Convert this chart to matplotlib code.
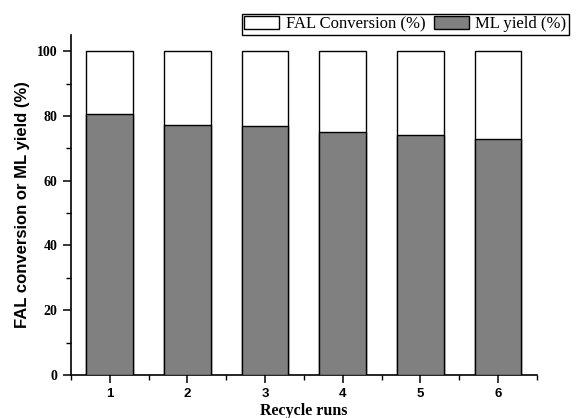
import numpy as np
import matplotlib.pyplot as plt
from matplotlib.ticker import MultipleLocator

# data
runs = [1, 2, 3, 4, 5, 6]
fal_conversion = [100, 100, 100, 100, 100, 100]
ml_yield = [80.6, 77.1, 76.9, 75.2, 74.1, 73.0]

serif = ['Liberation Serif', 'DejaVu Serif']
sans = ['Liberation Sans', 'DejaVu Sans']

fig = plt.figure(figsize=(5.76, 4.18), dpi=100)
ax = fig.add_axes([0.123, 0.103, 0.809, 0.813])

# white full bar for conversion, gray bar for yield in front
ax.bar(runs, fal_conversion, width=0.6, color='white', edgecolor='black',
       linewidth=1.0, label='FAL Conversion (%)', zorder=2)
ax.bar(runs, ml_yield, width=0.6, color='#808080', edgecolor='black',
       linewidth=1.0, label='ML yield (%)', zorder=3)

ax.set_xlim(0.5, 6.5)
ax.set_ylim(0, 105)
ax.set_xticks(runs)
ax.xaxis.set_minor_locator(plt.FixedLocator(np.arange(0.5, 7, 1)))
ax.yaxis.set_major_locator(MultipleLocator(20))
ax.yaxis.set_minor_locator(MultipleLocator(10))

for s in ['top', 'right']:
    ax.spines[s].set_visible(False)
for s in ['left', 'bottom']:
    ax.spines[s].set_linewidth(1.2)

ax.tick_params(axis='both', which='major', direction='out', length=6, width=1.1)
ax.tick_params(axis='both', which='minor', direction='out', length=3.5, width=1.0)

for lab in ax.get_yticklabels():
    lab.set_fontfamily(serif)
    lab.set_fontweight('bold')
    lab.set_fontsize(10)
for lab in ax.get_xticklabels():
    lab.set_fontfamily(sans)
    lab.set_fontweight('bold')
    lab.set_fontsize(9.5)

ax.set_xlabel('Recycle runs', family=serif, fontweight='bold', fontsize=11.5, labelpad=2)
ax.set_ylabel('FAL conversion or ML yield (%)', family=sans, fontweight='bold',
              fontsize=12, labelpad=5)

leg = fig.legend(loc='upper right', bbox_to_anchor=(0.988, 0.967), ncol=2,
                 frameon=True, fancybox=False, edgecolor='black', framealpha=1,
                 prop={'family': serif, 'size': 12}, borderaxespad=0,
                 borderpad=0.15, handlelength=2.1, handleheight=0.8,
                 handletextpad=0.4, columnspacing=0.5)
leg.get_frame().set_linewidth(1.0)

fig.savefig('out.png', dpi=100)
